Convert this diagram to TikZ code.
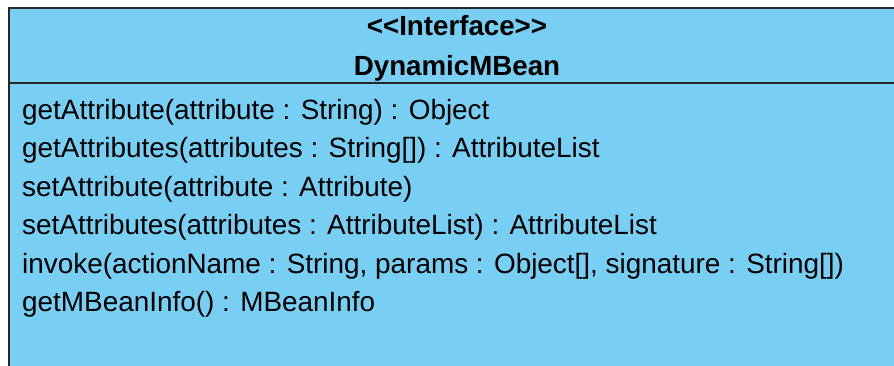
\documentclass[tikz,border=0pt]{standalone}
\usepackage{fontspec}
\setmainfont{Liberation Sans}
\usepackage{xcolor}
\usepackage{tikz}
\usetikzlibrary{positioning}

\definecolor{ifacefill}{RGB}{121,206,243}

\begin{document}
\begin{tikzpicture}[
    x=1pt, y=-1pt,
    classbox/.style={draw=black!85, line width=1.6pt, fill=ifacefill, rectangle, inner sep=0pt, anchor=north west, minimum width=889pt, minimum height=365pt},
    header/.style={font=\fontsize{27.7}{27.7}\selectfont\bfseries, anchor=base, inner sep=0pt},
    oper/.style={font=\fontsize{27.9}{27.9}\selectfont, anchor=base west, inner sep=0pt}
]

\path[use as bounding box] (0,0) rectangle (894,365);

\node[classbox] (iface) at (8,7) {};
\coordinate (sepL) at (8,83);
\coordinate (sepR) at (897,83);
\draw[draw=black!85, line width=1.6pt] (sepL) -- (sepR);

% class name compartment
\node[header] (stereo) at (457,35) {{<}{<}Interface{>}{>}};
\node[header] (cname) at (457,75) {DynamicMBean};

% operations
\node[oper] (op1) at (22,119) {getAttribute(attribute : String) : Object};
\node[oper] (op2) at (22,157.5) {getAttributes(attributes : String[]) : AttributeList};
\node[oper] (op3) at (22,196) {setAttribute(attribute : Attribute)};
\node[oper] (op4) at (22,234.5) {setAttributes(attributes : AttributeList) : AttributeList};
\node[oper] (op5) at (22,273) {invoke(actionName : String, params : Object[], signature : String[])};
\node[oper] (op6) at (22,311.5) {getMBeanInfo() : MBeanInfo};

\end{tikzpicture}
\end{document}
